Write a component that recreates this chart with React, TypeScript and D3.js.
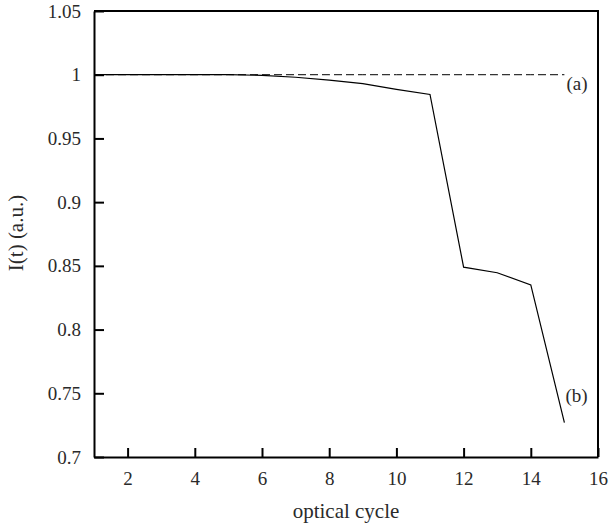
import React, { useEffect, useRef } from 'react';
import * as d3 from 'd3';

// optical cycle number and normalised intensity for the two runs
const cycles = [1, 2, 3, 4, 5, 6, 7, 8, 9, 10, 11, 12, 13, 14, 15];
const intensityA = [1, 1, 1, 1, 1, 1, 1, 1, 1, 1, 1, 1, 1, 1, 1];
const intensityB = [1, 1, 1, 1, 1, 0.9995, 0.998, 0.9958, 0.993, 0.9885, 0.9845, 0.849, 0.8446, 0.835, 0.727];

const xTicks = [2, 4, 6, 8, 10, 12, 14, 16];
const yTicks = [0.7, 0.75, 0.8, 0.85, 0.9, 0.95, 1, 1.05];

const seriesLabels = ['(a)', '(b)'];
const xTitle = 'optical cycle';
const yTitle = 'I(t) (a.u.)';

const FONT = 'Liberation Serif';

export default function App() {
    const svgRef = useRef<SVGSVGElement>(null);

    useEffect(() => {
        const width = 611, height = 525;
        const margin = { top: 11, right: 13, bottom: 68, left: 94 };
        const w = width - margin.left - margin.right;
        const h = height - margin.top - margin.bottom;

        const xScale = d3.scaleLinear().domain([1, 16]).range([0, w]);
        const yScale = d3.scaleLinear().domain([0.7, 1.05]).range([h, 0]);

        const root = d3.select(svgRef.current);
        root.selectAll('*').remove();

        const svg = root.append('g')
            .attr('transform', `translate(${margin.left}, ${margin.top})`);

        const xAxis = d3.axisBottom(xScale)
            .tickValues(xTicks)
            .tickSize(-9)
            .tickSizeOuter(0)
            .tickPadding(15)
            .tickFormat(d => String(d));

        const yAxis = d3.axisLeft(yScale)
            .tickValues(yTicks)
            .tickSize(-10)
            .tickSizeOuter(0)
            .tickPadding(13)
            .tickFormat(d => String(+(+d).toFixed(2)));

        const gx = svg.append('g')
            .attr('transform', `translate(0, ${h})`)
            .call(xAxis);

        const gy = svg.append('g').call(yAxis);

        [gx, gy].forEach(g => {
            g.attr('font-family', FONT).attr('font-size', 19);
            g.select('.domain').attr('stroke', '#000').attr('stroke-width', 2);
            g.selectAll('.tick line').attr('stroke', '#000').attr('stroke-width', 2);
            g.selectAll('.tick text').attr('fill', '#2a2a2a');
        });

        // frame: top and right
        svg.append('path')
            .attr('d', `M0,0H${w}V${h}`)
            .attr('fill', 'none')
            .attr('stroke', '#000')
            .attr('stroke-width', 2);

        const line = d3.line<number>()
            .x((_, i) => xScale(cycles[i]))
            .y(d => yScale(d));

        svg.append('path')
            .datum(intensityA)
            .attr('d', line)
            .attr('fill', 'none')
            .attr('stroke', '#000')
            .attr('stroke-width', 1)
            .attr('stroke-dasharray', '8,4');

        svg.append('path')
            .datum(intensityB)
            .attr('d', line)
            .attr('fill', 'none')
            .attr('stroke', '#000')
            .attr('stroke-width', 1.2);

        const labels = svg.append('g')
            .attr('font-family', FONT)
            .attr('fill', '#2a2a2a');

        const last = cycles.length - 1;
        labels.append('text')
            .attr('x', xScale(cycles[last]) + 2)
            .attr('y', yScale(intensityA[last]) + 15)
            .attr('font-size', 19)
            .text(seriesLabels[0]);

        labels.append('text')
            .attr('x', xScale(cycles[last]) + 1)
            .attr('y', yScale(intensityB[last]) - 21)
            .attr('font-size', 19)
            .text(seriesLabels[1]);

        labels.append('text')
            .attr('x', w / 2)
            .attr('y', h + 61)
            .attr('text-anchor', 'middle')
            .attr('font-size', 21)
            .text(xTitle);

        labels.append('text')
            .attr('transform', `translate(${-71}, ${222}) rotate(-90)`)
            .attr('text-anchor', 'middle')
            .attr('font-size', 21)
            .text(yTitle);
    }, []);

    return (
        <svg
            ref={svgRef}
            width={611}
            height={525}
            style={{ position: 'absolute', left: 0, top: 0, background: '#fff' }}
        />
    );
}
